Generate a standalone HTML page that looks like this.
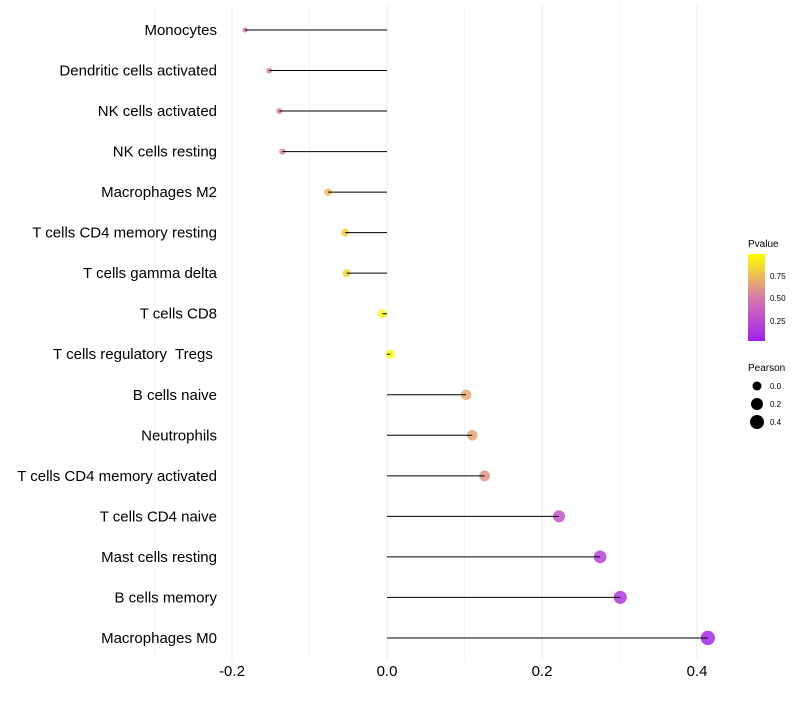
<!DOCTYPE html>
<html><head><meta charset="utf-8"><style>
body{margin:0;background:#fff;font-family:"Liberation Sans",sans-serif}
svg text{font-family:"Liberation Sans",sans-serif;white-space:pre}
</style></head><body>
<svg id="chart" width="800" height="700" xmlns="http://www.w3.org/2000/svg">
<defs><linearGradient id="pg" x1="0" y1="1" x2="0" y2="0">
<stop offset="0" stop-color="#a020f0"/><stop offset="0.5" stop-color="#d87aaa"/><stop offset="1" stop-color="#ffff00"/></linearGradient></defs>
<g id="grid"></g>
<g id="marks"></g>
<g id="ylabels"></g>
<g id="xticks"></g>
<g>
<text x="748" y="247" font-size="10">Pvalue</text>
<rect x="748" y="254" width="17" height="87" fill="url(#pg)"/>
<text x="770" y="279" font-size="8">0.75</text>
<text x="770" y="301" font-size="8">0.50</text>
<text x="770" y="324" font-size="8">0.25</text>
</g>
<g>
<text x="748" y="371" font-size="10">Pearson</text>
<circle cx="757" cy="386" r="4.5" fill="#000"/>
<text x="770" y="389" font-size="8">0.0</text>
<circle cx="757" cy="404" r="6" fill="#000"/>
<text x="770" y="407" font-size="8">0.2</text>
<circle cx="757" cy="422" r="7" fill="#000"/>
<text x="770" y="425" font-size="8">0.4</text>
</g>
</svg>
<script>
const categories=["Monocytes","Dendritic cells activated","NK cells activated","NK cells resting","Macrophages M2","T cells CD4 memory resting","T cells gamma delta","T cells CD8","T cells regulatory  Tregs ","B cells naive","Neutrophils","T cells CD4 memory activated","T cells CD4 naive","Mast cells resting","B cells memory","Macrophages M0"];
const pearson=[-0.183,-0.152,-0.139,-0.135,-0.076,-0.054,-0.052,-0.006,0.004,0.102,0.110,0.126,0.222,0.275,0.301,0.414];
const pvalues=[0.45,0.55,0.56,0.57,0.75,0.82,0.85,0.97,0.98,0.68,0.66,0.6,0.3,0.2,0.12,0.04];
const xTicks=[-0.2,0,0.2,0.4];
const xTickLabels=["-0.2","0.0","0.2","0.4"];
const NS="http://www.w3.org/2000/svg";
const x=v=>387+v*775;
const y=i=>30+i*40.53;
const r=v=>Math.sqrt(Math.max(20+75*v,2.2));
function col(p){const s=[[160,32,240],[216,122,170],[255,255,0]];let a,b,t;if(p<0.5){a=s[0];b=s[1];t=p/0.5}else{a=s[1];b=s[2];t=(p-0.5)/0.5}return `rgb(${a.map((c,k)=>Math.round(c+(b[k]-c)*t)).join(',')})`}
function mk(tag,at,parent){const e=document.createElementNS(NS,tag);for(const k in at)e.setAttribute(k,at[k]);document.getElementById(parent).appendChild(e);return e}
for(let v=-0.3;v<=0.41;v+=0.1){const g=mk('line',{x1:x(v),x2:x(v),y1:5,y2:660,stroke:'#ebebeb','stroke-width':Math.abs(Math.round(v*10))%2==0?1:0.5},'grid');

}
categories.forEach((c,i)=>{
const p=mk('circle',{cx:x(pearson[i]),cy:y(i),r:r(pearson[i]),fill:col(pvalues[i]),'fill-opacity':0.85},'marks');


const l=mk('line',{x1:x(pearson[i]),x2:x(0),y1:y(i),y2:y(i),stroke:'#000','stroke-width':1},'marks');


const t=mk('text',{x:217,y:y(i)+5,'text-anchor':'end','font-size':15,fill:'#000'},'ylabels');
t.textContent=c;


});
xTicks.forEach((v,i)=>{const t=mk('text',{x:x(v),y:676,'text-anchor':'middle','font-size':15,fill:'#000'},'xticks');
t.textContent=xTickLabels[i];

});
</script>
</body></html>
